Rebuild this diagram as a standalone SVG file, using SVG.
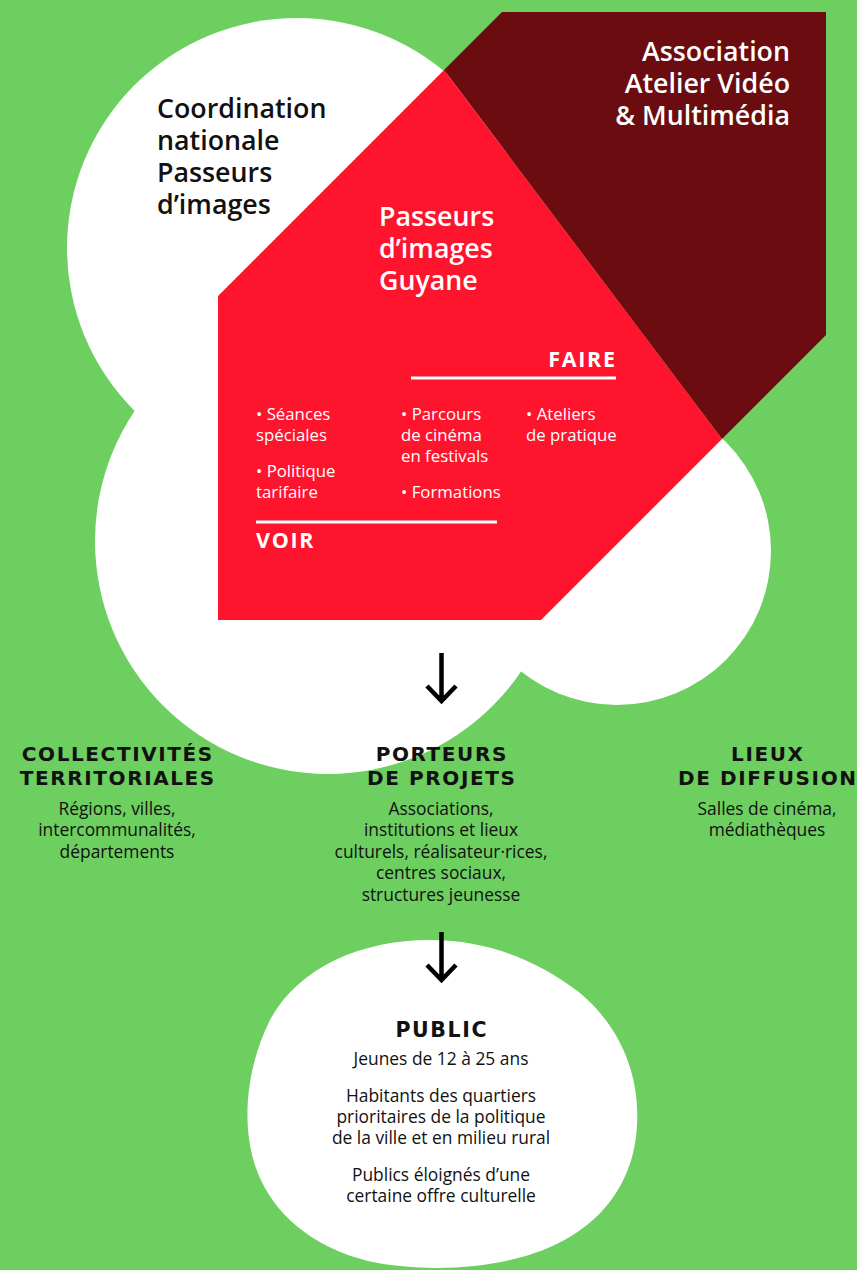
<svg xmlns="http://www.w3.org/2000/svg" width="857" height="1270" viewBox="0 0 857 1270">
<defs>
<style>
.bg{fill:#6ccf5f}
.white{fill:#ffffff}
.red{fill:#ff142e}
.dark{fill:#6b0c10}
.h1{font-family:"Open Sans","Liberation Sans",sans-serif;font-weight:600;font-size:26.8px}
.hb{fill:#111111}
.hw{fill:#ffffff}
.item{font-family:"Open Sans","Liberation Sans",sans-serif;font-weight:400;font-size:16.8px;fill:#ffffff}
.cap{font-family:"Open Sans","Liberation Sans",sans-serif;font-weight:700;font-size:21.5px;letter-spacing:1.7px}
.cat{font-family:"DejaVu Sans","Open Sans",sans-serif;font-weight:700;font-size:20px;letter-spacing:1.6px;fill:#111111;text-anchor:middle}
.desc{font-family:"Open Sans","Liberation Sans",sans-serif;font-weight:400;font-size:17.4px;fill:#111111;text-anchor:middle}
.rule{stroke:#ffffff;stroke-width:3}
.arrow{stroke:#000000;stroke-width:4.5;fill:none}
</style>
</defs>
<rect class="bg" x="0" y="0" width="857" height="1270"/>

<g id="cloud">
<circle class="white" cx="297" cy="248" r="230"/>
<circle class="white" cx="328" cy="541" r="233"/>
<circle class="white" cx="617" cy="551" r="154"/>
</g>

<g id="node-coordination">
<text class="h1 hb" x="157" y="118">Coordination</text>
<text class="h1 hb" x="157" y="150">nationale</text>
<text class="h1 hb" x="157" y="182">Passeurs</text>
<text class="h1 hb" x="157" y="214">d’images</text>
</g>

<g id="node-association">
<polygon class="dark" points="502,12 826,12 826,335 722,439 444,70"/>
<text class="h1 hw" x="790" y="61" text-anchor="end">Association</text>
<text class="h1 hw" x="790" y="93" text-anchor="end">Atelier Vidéo</text>
<text class="h1 hw" x="790" y="125" text-anchor="end">&amp; Multimédia</text>
</g>

<g id="node-passeurs-guyane">
<polygon class="red" points="218,296 444,70 722,439 541,620 218,620"/>
<text class="h1 hw" x="379" y="226">Passeurs</text>
<text class="h1 hw" x="379" y="258">d’images</text>
<text class="h1 hw" x="379" y="290">Guyane</text>
<text class="cap hw" x="616.7" y="367" text-anchor="end">FAIRE</text>
<line class="rule" x1="411" y1="378" x2="616" y2="378"/>
<text class="item" x="256" y="420">• Séances</text>
<text class="item" x="256" y="441">spéciales</text>
<text class="item" x="256" y="477">• Politique</text>
<text class="item" x="256" y="498">tarifaire</text>
<text class="item" x="401" y="420">• Parcours</text>
<text class="item" x="401" y="441">de cinéma</text>
<text class="item" x="401" y="462">en festivals</text>
<text class="item" x="401" y="498">• Formations</text>
<text class="item" x="526" y="420">• Ateliers</text>
<text class="item" x="526" y="441">de pratique</text>
<line class="rule" x1="256" y1="522" x2="497" y2="522"/>
<text class="cap hw" x="256" y="548">VOIR</text>
</g>

<g id="node-collectivites">
<text class="cat" x="117.8" y="761">COLLECTIVITÉS</text>
<text class="cat" x="117.8" y="785">TERRITORIALES</text>
<text class="desc" x="117" y="815">Régions, villes,</text>
<text class="desc" x="117" y="836">intercommunalités,</text>
<text class="desc" x="117" y="858">départements</text>
</g>

<g id="node-porteurs">
<text class="cat" x="441.8" y="761">PORTEURS</text>
<text class="cat" x="441.8" y="785">DE PROJETS</text>
<text class="desc" x="441" y="815">Associations,</text>
<text class="desc" x="441" y="836">institutions et lieux</text>
<text class="desc" x="441" y="858">culturels, réalisateur·rices,</text>
<text class="desc" x="441" y="879">centres sociaux,</text>
<text class="desc" x="441" y="901">structures jeunesse</text>
</g>

<g id="node-lieux">
<text class="cat" x="767.8" y="761">LIEUX</text>
<text class="cat" x="767.8" y="785">DE DIFFUSION</text>
<text class="desc" x="767" y="815">Salles de cinéma,</text>
<text class="desc" x="767" y="836">médiathèques</text>
</g>

<g id="node-public">
<path class="white" d="M430,940 C490,940 540,962 580,993 C622,1028 640,1078 637,1125 C634,1190 592,1238 522,1257 C482,1268 440,1270 400,1266 C330,1260 272,1222 254,1162 C242,1122 246,1068 270,1020 C298,968 360,940 430,940 Z"/>
<text class="cat" x="441.8" y="1037" style="font-size:20.5px">PUBLIC</text>
<text class="desc" x="441" y="1065">Jeunes de 12 à 25 ans</text>
<text class="desc" x="441" y="1102">Habitants des quartiers</text>
<text class="desc" x="441" y="1123">prioritaires de la politique</text>
<text class="desc" x="441" y="1144">de la ville et en milieu rural</text>
<text class="desc" x="441" y="1181">Publics éloignés d’une</text>
<text class="desc" x="441" y="1202">certaine offre culturelle</text>
</g>

<g id="connectors">
<path class="arrow" d="M441.5,653 V701 M427,686 L441.5,701 L456,686"/>
<path class="arrow" d="M441.5,932 V980 M427,965 L441.5,980 L456,965"/>
</g>
</svg>
